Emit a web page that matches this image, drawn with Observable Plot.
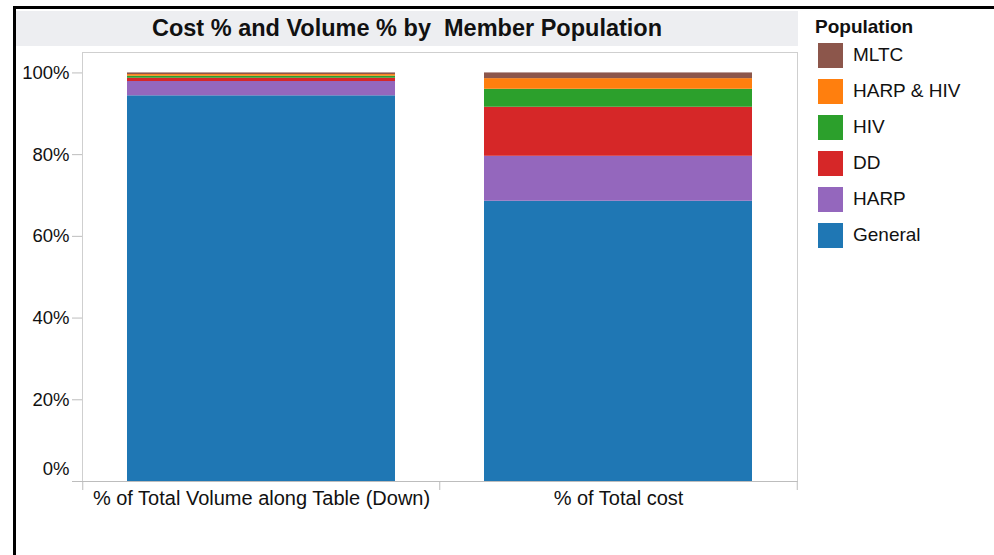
<!DOCTYPE html>
<html>
<head>
<meta charset="utf-8">
<script src="https://cdn.jsdelivr.net/npm/d3@7"></script>
<script src="https://cdn.jsdelivr.net/npm/@observablehq/plot@0.6"></script>
<style>
  body { margin: 0; background: #fff; font-family: "Liberation Sans", Arial, sans-serif; }
  #wrap { position: relative; width: 994px; height: 555px; overflow: hidden; background: #fff; }
  #wrap svg { position: absolute; left: 0; top: 0; }
  .border-top { position: absolute; left: 13px; top: 6px; width: 981px; height: 3px; background: #000; }
  .border-left { position: absolute; left: 13px; top: 6px; width: 3px; height: 549px; background: #000; }
  .title-band { position: absolute; left: 16px; top: 11px; width: 782px; height: 35px; background: #edeef1;
    display: flex; align-items: center; justify-content: center; font-weight: bold; font-size: 23.5px; color: #111; white-space: pre; }
  .legend { position: absolute; left: 815px; top: 16px; color: #111; }
  .legend-title { font-weight: bold; font-size: 19px; height: 22px; line-height: 22px; }
  .legend-items { position: absolute; left: 3px; top: 21px; }
  .legend-item { display: flex; align-items: center; height: 36px; font-size: 19px; white-space: nowrap; }
  .swatch { width: 25px; height: 25px; margin-right: 10px; }
</style>
</head>
<body>
<div id="wrap"></div>
<script>
const chartTitle = "Cost % and Volume % by  Member Population";
const legendTitle = "Population";
const measures = ["% of Total Volume along Table (Down)", "% of Total cost"];
const populations = ["General", "HARP", "DD", "HIV", "HARP & HIV", "MLTC"];
const volumeShare = [0.944, 0.035, 0.008, 0.005, 0.004, 0.004];
const costShare = [0.686, 0.110, 0.120, 0.044, 0.026, 0.014];
const colors = ["#1f77b4", "#9467bd", "#d62728", "#2ca02c", "#ff7f0e", "#8c564b"];
const yTicks = [0, 0.2, 0.4, 0.6, 0.8, 1];

const data = [];
populations.forEach((p, i) => {
  data.push({measure: measures[0], population: p, share: volumeShare[i]});
  data.push({measure: measures[1], population: p, share: costShare[i]});
});

const W = 994, H = 555;
const mL = 82, mR = 197, mT = 52, mB = 74;
const halfStep = (W - mL - mR) / measures.length / 2;
const pct = d => Math.round(d * 100) + "%";
const font = '"Liberation Sans", Arial, sans-serif';

const plot = Plot.plot({
  width: W, height: H,
  marginLeft: mL, marginRight: mR, marginTop: mT, marginBottom: mB,
  style: {fontFamily: font, fontSize: "18.5px", color: "#111", background: "transparent", overflow: "visible"},
  x: {domain: measures, paddingInner: 0.25, paddingOuter: 0.125, label: null},
  y: {domain: [0, 1.05], label: null},
  color: {domain: populations, range: colors},
  marks: [
    Plot.barY(data, {x: "measure", y: "share", fill: "population", order: populations}),
    Plot.frame({stroke: "#cfcfcf"}),
    Plot.ruleY([0], {stroke: "#bdbdbd"}),
    Plot.axisY(yTicks, {tickSize: 10, tickPadding: 3, stroke: "#bdbdbd", fill: "#111",
      tickFormat: d => d === 0 ? "" : pct(d), label: null}),
    Plot.axisY([0], {tickSize: 0, tickPadding: 13, dy: -12, fill: "#111", tickFormat: pct, label: null}),
    Plot.axisX(measures, {tickSize: 0, tickPadding: 9, fill: "#111", fontSize: 20, label: null}),
    Plot.axisX(measures, {tickSize: 9, dx: -halfStep, stroke: "#bdbdbd", tickFormat: () => "", label: null}),
    Plot.axisX([measures[measures.length - 1]], {tickSize: 9, dx: halfStep, stroke: "#bdbdbd", tickFormat: () => "", label: null})
  ]
});

const wrap = document.getElementById("wrap");
wrap.appendChild(plot);

const bt = document.createElement("div"); bt.className = "border-top"; wrap.appendChild(bt);
const bl = document.createElement("div"); bl.className = "border-left"; wrap.appendChild(bl);

const title = document.createElement("div");
title.className = "title-band";
title.textContent = chartTitle;
wrap.appendChild(title);

const legend = document.createElement("div");
legend.className = "legend";
const lt = document.createElement("div");
lt.className = "legend-title";
lt.textContent = legendTitle;
legend.appendChild(lt);
const items = document.createElement("div");
items.className = "legend-items";
populations.slice().reverse().forEach(p => {
  const row = document.createElement("div");
  row.className = "legend-item";
  const sw = document.createElement("div");
  sw.className = "swatch";
  sw.style.background = colors[populations.indexOf(p)];
  const label = document.createElement("span");
  label.textContent = p;
  row.appendChild(sw);
  row.appendChild(label);
  items.appendChild(row);
});
legend.appendChild(items);
wrap.appendChild(legend);
</script>
</body>
</html>
